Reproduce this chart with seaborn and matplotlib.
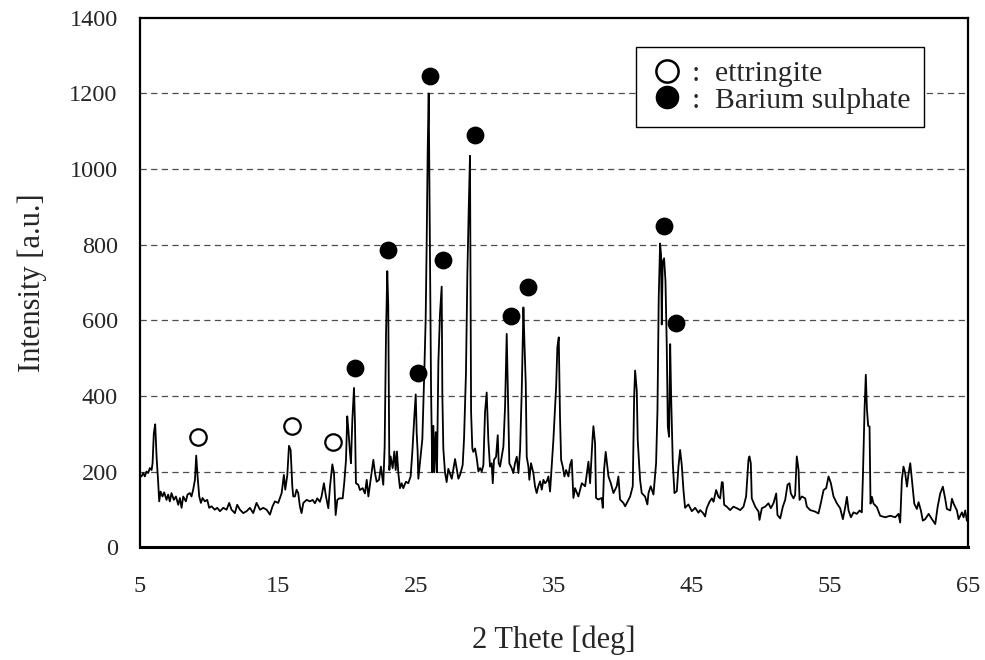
import matplotlib
matplotlib.use("Agg")
import matplotlib.pyplot as plt
from matplotlib.lines import Line2D
import pandas as pd
import seaborn as sns

# XRD trace (2 theta in deg, intensity in a.u.)
two_theta = [
    5.12, 5.24, 5.36, 5.48, 5.60, 5.72, 5.85, 5.92, 6.01, 6.11, 6.21, 6.33, 6.40, 6.50,
    6.64, 6.76, 6.93, 7.05, 7.17, 7.29, 7.46, 7.61, 7.78, 7.90, 8.02, 8.14, 8.33, 8.45,
    8.62, 8.74, 8.86, 8.99, 9.08, 9.18, 9.30, 9.42, 9.54, 9.71, 9.88, 10.02, 10.19, 10.43,
    10.60, 10.80, 11.04, 11.28, 11.47, 11.64, 11.88, 12.05, 12.25, 12.49, 12.73, 12.97,
    13.21, 13.45, 13.70, 13.94, 14.18, 14.42, 14.61, 14.78, 15.02, 15.27, 15.43, 15.53,
    15.68, 15.80, 15.92, 16.04, 16.11, 16.23, 16.35, 16.47, 16.59, 16.71, 16.84, 17.08,
    17.32, 17.51, 17.68, 17.85, 18.04, 18.16, 18.33, 18.48, 18.65, 18.77, 18.94, 19.06,
    19.18, 19.30, 19.44, 19.69, 19.81, 19.93, 20.02, 20.10, 20.22, 20.29, 20.39, 20.51,
    20.58, 20.65, 20.82, 20.94, 21.14, 21.30, 21.43, 21.55, 21.71, 21.91, 22.03, 22.15,
    22.32, 22.46, 22.63, 22.73, 22.83, 22.92, 22.99, 23.07, 23.16, 23.31, 23.43, 23.53,
    23.62, 23.72, 23.84, 23.96, 24.08, 24.27, 24.44, 24.61, 24.73, 24.88, 24.98, 25.05,
    25.12, 25.17, 25.29, 25.46, 25.60, 25.70, 25.77, 25.85, 25.92, 25.99, 26.09, 26.18,
    26.26, 26.33, 26.43, 26.52, 26.62, 26.74, 26.86, 26.91, 26.98, 27.10, 27.22, 27.34,
    27.59, 27.83, 28.07, 28.19, 28.38, 28.48, 28.62, 28.72, 28.82, 28.91, 28.99, 29.08,
    29.15, 29.28, 29.40, 29.52, 29.64, 29.76, 29.88, 30.00, 30.12, 30.24, 30.36, 30.48,
    30.56, 30.65, 30.80, 30.92, 30.99, 31.09, 31.21, 31.33, 31.45, 31.57, 31.69, 31.76,
    31.93, 32.05, 32.17, 32.30, 32.42, 32.54, 32.66, 32.78, 32.85, 32.95, 33.02, 33.14,
    33.21, 33.33, 33.50, 33.62, 33.74, 33.86, 33.99, 34.11, 34.23, 34.35, 34.47, 34.59,
    34.71, 34.83, 34.95, 35.15, 35.24, 35.34, 35.43, 35.51, 35.63, 35.75, 35.87, 36.04,
    36.16, 36.28, 36.40, 36.52, 36.76, 37.01, 37.25, 37.49, 37.61, 37.78, 37.85, 37.97,
    38.04, 38.21, 38.45, 38.53, 38.62, 38.74, 38.94, 39.11, 39.30, 39.54, 39.66, 39.78,
    40.02, 40.15, 40.51, 40.70, 40.80, 40.87, 40.99, 41.06, 41.23, 41.35, 41.59, 41.76,
    41.84, 42.00, 42.20, 42.39, 42.49, 42.58, 42.68, 42.75, 42.80, 42.87, 42.97, 43.07,
    43.16, 43.24, 43.33, 43.41, 43.48, 43.60, 43.72, 43.89, 44.01, 44.13, 44.25, 44.37,
    44.49, 44.73, 44.98, 45.22, 45.46, 45.58, 45.82, 45.94, 46.06, 46.26, 46.43, 46.55,
    46.74, 46.91, 47.03, 47.15, 47.22, 47.32, 47.51, 47.75, 47.99, 48.24, 48.48, 48.72,
    48.91, 49.08, 49.15, 49.25, 49.32, 49.57, 49.81, 49.88, 50.05, 50.29, 50.53, 50.70,
    50.89, 51.09, 51.18, 51.38, 51.57, 51.74, 51.91, 52.05, 52.15, 52.34, 52.46, 52.58,
    52.71, 52.78, 52.95, 53.19, 53.31, 53.55, 53.91, 54.15, 54.32, 54.52, 54.71, 54.88,
    55.05, 55.24, 55.48, 55.72, 55.92, 56.09, 56.21, 56.33, 56.50, 56.69, 56.93, 57.13,
    57.29, 57.37, 57.49, 57.58, 57.66, 57.75, 57.85, 57.92, 58.02, 58.14, 58.38, 58.62,
    58.99, 59.35, 59.71, 59.95, 60.07, 60.19, 60.31, 60.43, 60.56, 60.68, 60.80, 60.92,
    61.09, 61.28, 61.40, 61.57, 61.71, 61.88, 62.13, 62.37, 62.61, 62.78, 62.97, 63.16,
    63.33, 63.45, 63.70, 63.82, 63.94, 64.18, 64.30, 64.54, 64.66, 64.78, 64.90,
]
intensity = [
    187, 196, 187, 200, 196, 209, 204, 222, 301, 325, 239, 169, 121, 147,
    134, 145, 125, 139, 121, 143, 125, 134, 112, 130, 104, 134, 121, 139,
    143, 134, 152, 178, 242, 187, 134, 117, 130, 121, 125, 104, 108, 99,
    104, 95, 104, 99, 117, 99, 90, 112, 99, 90, 95, 104,
    90, 117, 99, 104, 99, 86, 108, 121, 117, 143, 191, 152,
    191, 268, 257, 161, 134, 134, 152, 143, 108, 90, 117, 125,
    121, 125, 116, 129, 120, 134, 169, 134, 103, 160, 219, 196,
    85, 125, 129, 129, 173, 231, 346, 311, 249, 222, 337, 421,
    328, 169, 165, 151, 156, 142, 178, 134, 178, 231, 196, 173,
    178, 213, 165, 266, 567, 730, 640, 204, 240, 209, 253, 204,
    253, 196, 156, 169, 156, 173, 169, 187, 249, 346, 404, 302,
    251, 181, 225, 286, 461, 602, 795, 1058, 1200, 882, 418, 198,
    321, 198, 304, 198, 488, 619, 689, 400, 260, 198, 172, 207,
    181, 233, 181, 191, 217, 287, 461, 722, 896, 1035, 357, 261,
    252, 261, 235, 200, 209, 200, 217, 357, 409, 283, 213, 222,
    169, 231, 239, 296, 222, 213, 239, 266, 371, 564, 345, 222,
    209, 196, 222, 239, 196, 257, 415, 634, 546, 432, 239, 213,
    178, 222, 196, 161, 143, 161, 174, 152, 178, 169, 174, 187,
    147, 213, 283, 424, 529, 555, 345, 231, 213, 187, 204, 187,
    217, 231, 130, 156, 134, 169, 161, 226, 169, 283, 320, 274,
    130, 126, 130, 104, 204, 252, 187, 169, 143, 161, 187, 126,
    117, 108, 134, 161, 397, 467, 414, 283, 178, 143, 134, 113,
    143, 161, 139, 222, 362, 659, 803, 773, 589, 756, 764, 703,
    537, 318, 292, 537, 397, 222, 143, 148, 213, 257, 217, 152,
    104, 113, 95, 104, 91, 98, 89, 81, 103, 120, 129, 120,
    151, 133, 129, 172, 171, 112, 107, 98, 107, 103, 98, 107,
    134, 231, 240, 222, 129, 107, 94, 72, 103, 107, 116, 103,
    116, 142, 85, 76, 107, 125, 165, 169, 142, 129, 138, 240,
    204, 125, 134, 129, 107, 98, 94, 89, 116, 151, 156, 187,
    169, 134, 116, 103, 74, 106, 133, 97, 79, 92, 88, 97,
    92, 187, 366, 456, 366, 321, 319, 115, 133, 115, 106, 83,
    79, 83, 79, 88, 65, 178, 213, 196, 160, 196, 222, 178,
    115, 101, 119, 97, 70, 74, 88, 74, 61, 106, 142, 160,
    128, 101, 97, 128, 115, 97, 74, 92, 79, 97, 70,
]

# peak markers
ettringite_x = [9.18, 15.99, 19.0]
ettringite_y = [292, 320, 279]
baso4_x = [20.6, 23.0, 25.12, 26.02, 26.98, 29.25, 31.86, 33.1, 42.97, 43.8]
baso4_y = [473, 785, 460, 1247, 760, 1091, 612, 688, 850, 593]

x_ticks = [5, 15, 25, 35, 45, 55, 65]
y_ticks = [0, 200, 400, 600, 800, 1000, 1200, 1400]

sns.set_theme(style="white")
plt.rcParams['font.family'] = ['Liberation Serif', 'DejaVu Serif']

df = pd.DataFrame({"two_theta": two_theta, "intensity": intensity})

fig = plt.figure(figsize=(9.85, 6.6), dpi=100)
ax = fig.add_axes([0.142, 0.171, 0.841, 0.802])

# dashed grid lines
for yv in y_ticks[1:-1]:
    ax.axhline(yv, color="0.3", linewidth=0.9, linestyle=(0, (5, 3.5)), zorder=1)

sns.lineplot(data=df, x="two_theta", y="intensity", estimator=None, sort=False,
             color="black", linewidth=1.3, ax=ax, zorder=3)
sns.scatterplot(x=ettringite_x, y=ettringite_y, ax=ax, s=140, color="white",
                edgecolor="black", linewidth=1.6, zorder=4)
sns.scatterplot(x=baso4_x, y=baso4_y, ax=ax, s=140, color="black",
                edgecolor="black", linewidth=1, zorder=4)

ax.set_xlim(5, 65)
ax.set_ylim(0, 1400)
ax.set_xticks(x_ticks)
ax.set_yticks(y_ticks)
ax.tick_params(axis="x", direction="in", length=7, width=1, pad=21, labelsize=17.5)
ax.tick_params(axis="y", length=0, pad=16, labelsize=17.5)
ax.set_xlabel("2 Thete [deg]", fontsize=22, labelpad=20)
ax.set_ylabel("Intensity [a.u.]", fontsize=22, labelpad=16)

for side in ["left", "right", "top"]:
    ax.spines[side].set_color("black")
    ax.spines[side].set_linewidth(1.6)
ax.spines["bottom"].set_color("black")
ax.spines["bottom"].set_linewidth(2.2)

handles = [
    Line2D([], [], marker="o", linestyle="none", markersize=16, markerfacecolor="white",
           markeredgecolor="black", markeredgewidth=1.8),
    Line2D([], [], marker="o", linestyle="none", markersize=16, markerfacecolor="black",
           markeredgecolor="black"),
]
leg = ax.legend(handles, [":  ettringite", ":  Barium sulphate"], loc="upper right",
                bbox_to_anchor=(0.946, 0.945), borderaxespad=0, fontsize=21.3,
                frameon=True, fancybox=False, framealpha=1, edgecolor="black",
                handletextpad=0.27, borderpad=0.45, labelspacing=0.0, handlelength=1.15)
leg.get_frame().set_linewidth(1.0)

fig.savefig("out.png", dpi=100)
